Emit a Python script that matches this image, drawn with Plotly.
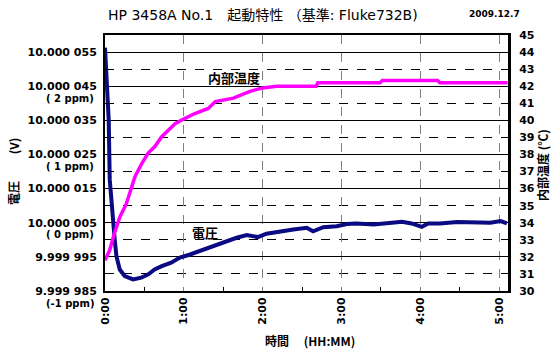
import plotly.graph_objects as go

# ---- data ----
volt_t = [0.0, 0.025, 0.047, 0.06, 0.08, 0.10, 0.123, 0.145, 0.187, 0.25, 0.356, 0.46, 0.55,
          0.63, 0.72, 0.84, 0.95, 1.08, 1.20, 1.37, 1.50, 1.67, 1.80, 1.94, 2.05, 2.22, 2.39,
          2.56, 2.64, 2.77, 2.94, 3.07, 3.19, 3.41, 3.62, 3.77, 3.89, 4.02, 4.10, 4.25, 4.47,
          4.68, 4.89, 5.02, 5.10]
volt_v = [10.0000563, 10.0000420, 10.0000352, 10.0000177, 10.0000109, 10.0000051, 10.0000001,
          9.9999952, 9.9999913, 9.9999894, 9.9999884, 9.9999889, 9.9999899, 9.9999913,
          9.9999923, 9.9999933, 9.9999948, 9.9999957, 9.9999967, 9.9999982, 9.9999992,
          10.0000006, 10.0000014, 10.0000008, 10.0000018, 10.0000025, 10.0000030, 10.0000035,
          10.0000025, 10.0000037, 10.0000040, 10.0000046, 10.0000048, 10.0000045, 10.0000048,
          10.0000053, 10.0000048, 10.0000038, 10.0000048, 10.0000048, 10.0000052, 10.0000050,
          10.0000050, 10.0000055, 10.0000048]

temp_t = [0.0, 0.06, 0.12, 0.19, 0.27, 0.34, 0.38, 0.47, 0.55, 0.63, 0.72, 0.80, 0.89, 0.99,
          1.14, 1.31, 1.40, 1.63, 1.84, 2.0, 2.18, 2.68, 2.70, 3.49, 3.52, 4.22, 4.25, 5.11]
temp_c = [31.8, 32.4, 33.4, 34.35, 35.1, 36.1, 36.7, 37.5, 38.1, 38.45, 39.04, 39.4, 39.8,
          40.06, 40.4, 40.7, 41.1, 41.3, 41.7, 41.9, 42.0, 42.0, 42.2, 42.2, 42.33, 42.33,
          42.2, 42.2]

v_ticks_uV = [-15, -5, 5, 15, 25, 35, 45, 55]
v_ticktext = ["9.999 985", "9.999 995", "10.000 005", "10.000 015", "10.000 025",
              "10.000 035", "10.000 045", "10.000 055"]
ppm_ticks_uV = [-15, 5, 25, 45]
ppm_text = ["(-1 ppm)", "( 0 ppm)", "( 1 ppm)", "( 2 ppm)"]
x_ticks = [0, 1, 2, 3, 4, 5]
x_ticktext = ["0:00", "1:00", "2:00", "3:00", "4:00", "5:00"]
t_ticks = list(range(30, 46))

# ---- layout geometry ----
W, H = 558, 352
L, R, T, B = 105, 50, 35, 61
PW, PH = W - L - R, H - T - B

def px(x):
    return (x - L) / PW

def py(y):
    return (H - B - y) / PH

FONT = "DejaVu Sans, Noto Sans CJK JP"
JFONT = "Noto Sans CJK JP, DejaVu Sans"

volt_uV = [(v - 10.0) * 1e6 for v in volt_v]

fig = go.Figure()
fig.add_trace(go.Scatter(x=temp_t, y=temp_c, yaxis="y2", mode="lines",
                         line=dict(color="#ff00ff", width=3.5), hoverinfo="skip"))
fig.add_trace(go.Scatter(x=volt_t, y=volt_uV, mode="lines",
                         line=dict(color="#0a0a82", width=4), hoverinfo="skip"))

fig.update_layout(
    width=W, height=H, margin=dict(l=L, r=R, t=T, b=B),
    paper_bgcolor="white", plot_bgcolor="white", showlegend=False,
    font=dict(family=FONT, color="black"),
    xaxis=dict(range=[0, 5.114], tickmode="array", tickvals=x_ticks, ticktext=x_ticktext,
               tickangle=-90, tickfont=dict(family="DejaVu Sans", size=11, weight="bold"),
               showgrid=True, gridcolor="#808080", griddash="dash", gridwidth=1,
               showline=True, linecolor="black", linewidth=2, mirror=True,
               ticks="", zeroline=False,
               minor=dict(tickmode="array", tickvals=[0.5, 1.5, 2.5, 3.5, 4.5],
                          ticks="inside", ticklen=4, tickcolor="black", showgrid=False)),
    yaxis=dict(range=[-15, 60], tickmode="array", tickvals=v_ticks_uV, ticktext=v_ticktext,
               tickfont=dict(family="DejaVu Sans", size=11, weight="bold"),
               showgrid=True, gridcolor="black", gridwidth=1, zeroline=False,
               showline=True, linecolor="black", linewidth=2, ticks="",
               ticklabelstandoff=4,
               minor=dict(tickmode="array", tickvals=[-10, 0, 10, 20, 30, 40, 50],
                          showgrid=True, gridcolor="black", griddash="dash", gridwidth=1,
                          ticks="inside", ticklen=4, tickcolor="black")),
    yaxis2=dict(range=[30, 45], overlaying="y", side="right", tickmode="array",
                tickvals=t_ticks, ticktext=[str(v) for v in t_ticks],
                tickfont=dict(family="DejaVu Sans", size=11, weight="bold"),
                showgrid=False, zeroline=False, showline=True, linecolor="black",
                linewidth=3, ticks="", ticklabelstandoff=6),
)

ann = []
for v, txt in zip(ppm_ticks_uV, ppm_text):
    ann.append(dict(x=px(96), y=v, xref="paper", yref="y", text=txt, showarrow=False,
                    xanchor="right", yanchor="middle", yshift=-12,
                    font=dict(family="DejaVu Sans", size=10, weight="bold")))
ann += [
    dict(x=px(263), y=py(15), xref="paper", yref="paper", showarrow=False,
         text="HP 3458A No.1　起動特性 （基準: Fluke732B)", xanchor="center", yanchor="middle",
         font=dict(family=FONT, size=14)),
    dict(x=px(494), y=py(14), xref="paper", yref="paper", showarrow=False,
         text="2009.12.7", xanchor="center", yanchor="middle",
         font=dict(family="DejaVu Sans", size=9, weight="bold")),
    dict(x=px(13), y=py(172), xref="paper", yref="paper", showarrow=False,
         text="電圧　　 (V)", textangle=-90, xanchor="center", yanchor="middle",
         font=dict(family=JFONT, size=12, weight="bold")),
    dict(x=px(542), y=py(165), xref="paper", yref="paper", showarrow=False,
         text="内部温度 (℃)", textangle=-90, xanchor="center", yanchor="middle",
         font=dict(family=JFONT, size=12, weight="bold")),
    dict(x=px(310), y=py(340), xref="paper", yref="paper", showarrow=False,
         text="時間　 (HH:MM)", xanchor="center", yanchor="middle",
         font=dict(family=JFONT, size=12, weight="bold")),
    dict(x=px(234), y=py(77), xref="paper", yref="paper", showarrow=False,
         text="内部温度", xanchor="center", yanchor="middle",
         font=dict(family=JFONT, size=13, weight="bold")),
    dict(x=px(205), y=py(232), xref="paper", yref="paper", showarrow=False,
         text="電圧", xanchor="center", yanchor="middle",
         font=dict(family=JFONT, size=13, weight="bold")),
]
fig.update_layout(annotations=ann)

fig.write_html("out.html")
